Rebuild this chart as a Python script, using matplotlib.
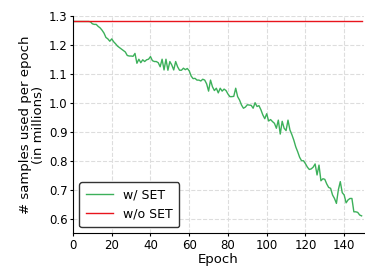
import numpy as np
import matplotlib

matplotlib.use("Agg")
import matplotlib.pyplot as plt

# samples used per epoch (millions)
epochs = np.arange(150)
with_set = [
    1.280, 1.280, 1.280, 1.280, 1.280, 1.280, 1.280, 1.280, 1.280, 1.279,
    1.272, 1.270, 1.270, 1.263, 1.258, 1.250, 1.240, 1.225, 1.220, 1.212,
    1.220, 1.210, 1.203, 1.195, 1.190, 1.185, 1.180, 1.175, 1.163, 1.161,
    1.161, 1.160, 1.170, 1.136, 1.150, 1.138, 1.148, 1.142, 1.148, 1.150,
    1.159, 1.145, 1.142, 1.142, 1.138, 1.124, 1.150, 1.113, 1.150, 1.112,
    1.142, 1.130, 1.113, 1.142, 1.124, 1.112, 1.112, 1.119, 1.114, 1.118,
    1.110, 1.092, 1.083, 1.084, 1.078, 1.078, 1.075, 1.081, 1.078, 1.065,
    1.040, 1.078, 1.055, 1.042, 1.050, 1.034, 1.050, 1.040, 1.047, 1.042,
    1.030, 1.021, 1.021, 1.022, 1.050, 1.021, 1.009, 0.992, 0.981, 0.985,
    0.993, 0.992, 0.991, 0.981, 1.000, 0.987, 0.990, 0.976, 0.958, 0.945,
    0.962, 0.937, 0.942, 0.935, 0.929, 0.912, 0.940, 0.892, 0.936, 0.912,
    0.904, 0.940, 0.906, 0.890, 0.871, 0.848, 0.831, 0.812, 0.800, 0.800,
    0.790, 0.778, 0.770, 0.772, 0.778, 0.789, 0.751, 0.785, 0.731, 0.738,
    0.736, 0.720, 0.708, 0.705, 0.682, 0.670, 0.653, 0.700, 0.728, 0.690,
    0.682, 0.655, 0.665, 0.670, 0.670, 0.624, 0.624, 0.622, 0.613, 0.610,
]
without_set = [1.28] * len(epochs)

fig = plt.figure(figsize=(3.65, 2.66), dpi=100)
ax = fig.add_axes([0.2, 0.123, 0.796, 0.818])

ax.plot(epochs, with_set, color="#3cb05a", linewidth=1.0, label="w/ SET")
ax.plot(epochs, without_set, color="#e8141c", linewidth=1.0, label="w/o SET")

ax.set_xlim(0, 150)
ax.set_ylim(0.55, 1.3)
ax.set_xticks(np.arange(0, 141, 20))
ax.set_yticks(np.arange(0.6, 1.31, 0.1))
ax.grid(True, linestyle="--", color="#dddddd", linewidth=0.8)
ax.set_axisbelow(True)
for side in ("top", "right"):
    ax.spines[side].set_visible(False)
ax.tick_params(labelsize=8.5, length=2, pad=2)

ax.set_xlabel("Epoch", fontsize=9.5, labelpad=1)
ax.set_ylabel("# samples used per epoch\n(in millions)", fontsize=9.5, labelpad=3, linespacing=1.0)
leg = ax.legend(loc="lower left", fontsize=9, frameon=True, fancybox=True,
                handlelength=2.2, handletextpad=0.8, borderpad=0.5,
                bbox_to_anchor=(0.0, 0.0))
leg.get_frame().set_edgecolor("#333333")
leg.get_frame().set_linewidth(1.0)
leg.get_frame().set_alpha(1.0)

fig.savefig("out.png", dpi=100)
